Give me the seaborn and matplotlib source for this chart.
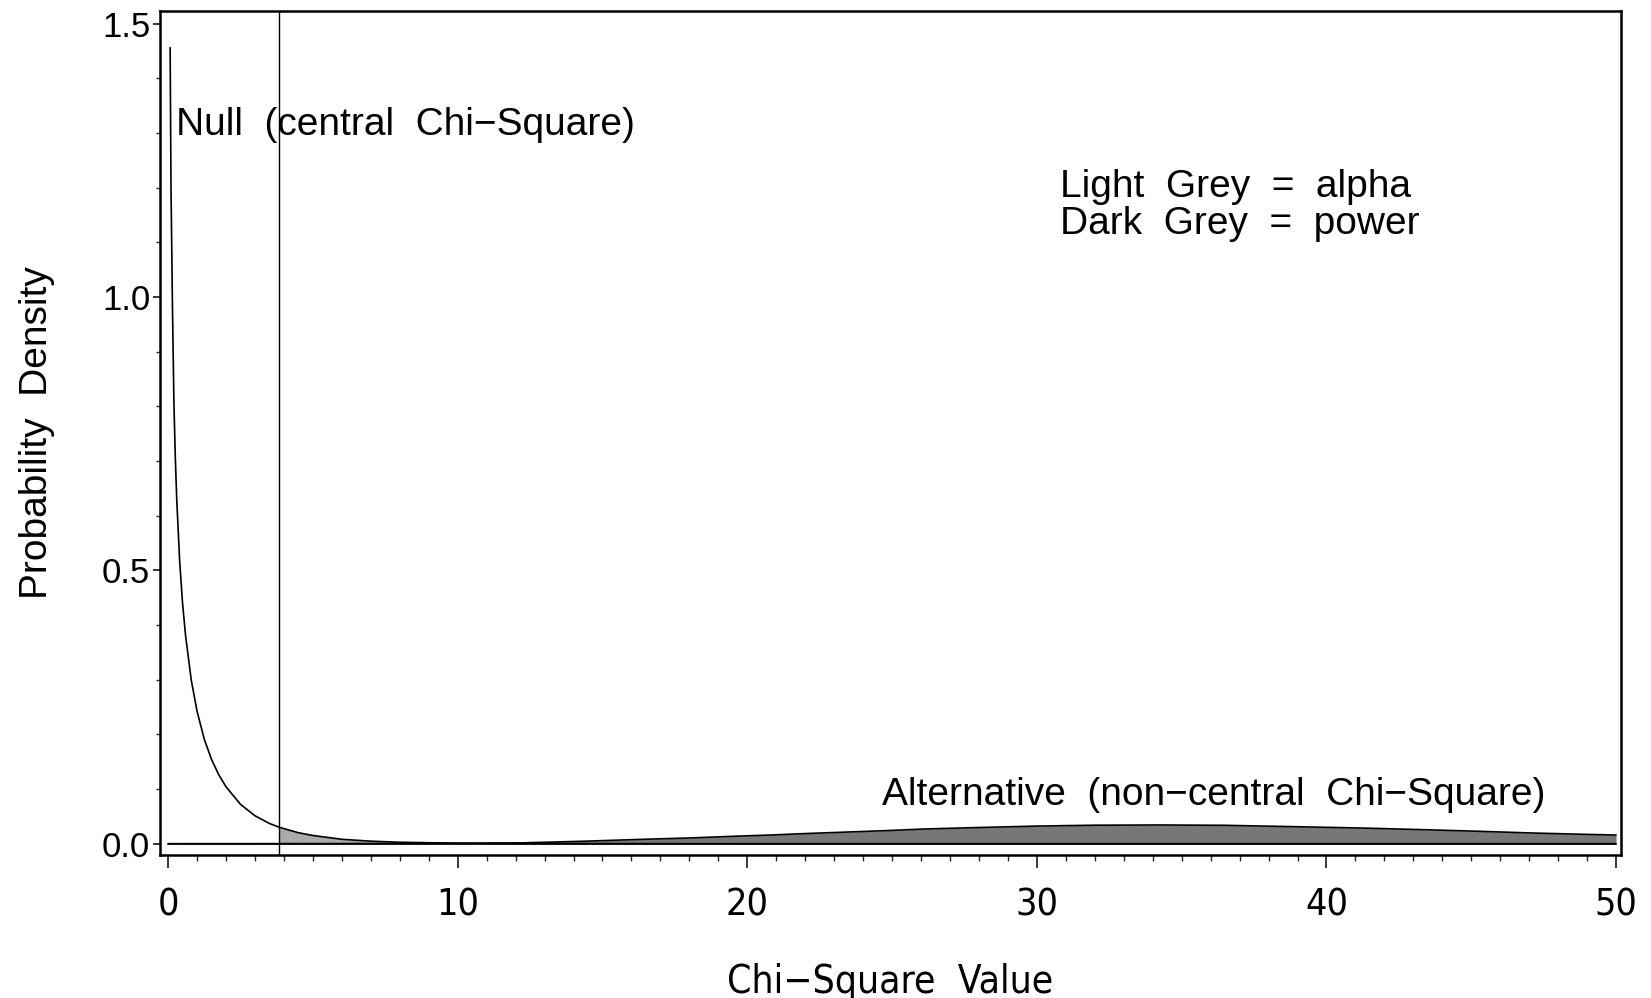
import numpy as np
import pandas as pd
import matplotlib
matplotlib.use("Agg")
import matplotlib.pyplot as plt
from matplotlib import font_manager
from matplotlib.font_manager import FontProperties
from matplotlib.ticker import MultipleLocator, FixedLocator
import seaborn as sns

# ---- data ----
crit_value = 3.84

null_x = [0.07, 0.1, 0.15, 0.2, 0.25, 0.3, 0.4, 0.5, 0.6, 0.8, 1.0, 1.25, 1.5, 1.75,
          2.0, 2.5, 3.0, 3.5, 3.84, 4.5, 5.0, 6.0, 7.0, 8.0, 10.0, 12.0, 15.0, 20.0,
          30.0, 40.0, 50.0]
null_y = [1.456, 1.200, 0.984, 0.807, 0.704, 0.627, 0.516, 0.439, 0.382, 0.299, 0.242,
          0.191, 0.154, 0.126, 0.104, 0.072, 0.051, 0.037, 0.030, 0.020, 0.015, 0.008,
          0.0046, 0.0026, 0.0009, 0.0003, 0.0001, 0.0, 0.0, 0.0, 0.0]

alt_x = [0.0, 3.84, 6.0, 8.0, 10.0, 12.2, 14.3, 16.4, 18.05, 19.5, 20.9, 21.9, 23.2,
         24.75, 26.15, 27.8, 30.0, 32.0, 34.3, 36.5, 38.8, 41.3, 43.35, 45.25, 47.05,
         48.85, 50.0]
alt_y = [0.0, 0.0001, 0.0002, 0.0004, 0.0008, 0.0015, 0.0044, 0.0080, 0.0105, 0.0135,
         0.0160, 0.0183, 0.0208, 0.0238, 0.0269, 0.0293, 0.0322, 0.0338, 0.0342, 0.0336,
         0.0312, 0.0285, 0.0256, 0.0227, 0.0196, 0.0172, 0.0158]

x_ticks = [0, 10, 20, 30, 40, 50]
x_ticklabels = ["0", "10", "20", "30", "40", "50"]
y_ticks = [0.0, 0.5, 1.0, 1.5]
y_ticklabels = ["0.0", "0.5", "1.0", "1.5"]

null_label = "Null  (central  Chi\u2212Square)"
alt_label = "Alternative  (non\u2212central  Chi\u2212Square)"
legend_line1 = "Light  Grey  =  alpha"
legend_line2 = "Dark  Grey  =  power"
x_title = "Chi\u2212Square  Value"
y_title = "Probability  Density"

# ---- style ----
sns.set_theme(style="ticks")
names = {f.name for f in font_manager.fontManager.ttflist}
regular = "Liberation Sans" if "Liberation Sans" in names else "DejaVu Sans"
plt.rcParams["font.family"] = [regular, "DejaVu Sans"]

# pick a narrow / condensed face for the x axis texts if one is installed
narrow_file = None
narrow_kind = None
for f in font_manager.fontManager.ttflist:
    if "Narrow" in f.name and "Liberation" in f.name and f.weight in (400, "normal", "regular") \
            and f.style == "normal":
        narrow_file = f.fname
        narrow_kind = "narrow"
        break
if narrow_file is None:
    for f in font_manager.fontManager.ttflist:
        if (("Condensed" in f.name) or (str(f.stretch) in ("condensed", "semi-condensed"))) \
                and f.style == "normal" and f.weight in (400, "normal", "regular") \
                and "Mono" not in f.name and "Serif" not in f.name:
            narrow_file = f.fname
            narrow_kind = "condensed"
            break

def xfont(size):
    if narrow_file is not None:
        return FontProperties(fname=narrow_file, size=size)
    return FontProperties(family=regular, size=size)

if narrow_kind == "narrow":
    xtick_size, xlab_size = 30, 31
elif narrow_kind == "condensed":
    xtick_size, xlab_size = 27, 28
else:
    xtick_size, xlab_size = 25, 28

fig = plt.figure(figsize=(16.51, 9.98), dpi=100)
fig.patch.set_facecolor("white")
ax = fig.add_axes([160 / 1651, (998 - 855) / 998, (1621 - 160) / 1651, (855 - 11) / 998])
ax.set_facecolor("white")

null_df = pd.DataFrame({"x": null_x, "y": null_y})
alt_df = pd.DataFrame({"x": alt_x, "y": alt_y})

nx = np.array(null_x)
ny = np.array(null_y)
axx = np.array(alt_x)
ayy = np.array(alt_y)

# light grey: null density beyond the critical value (alpha)
mask_n = nx >= crit_value
ax.fill_between(nx[mask_n], 0, ny[mask_n], color="#ababab", linewidth=0, zorder=1)
# dark grey: alternative density beyond the critical value (power)
mask_a = axx >= crit_value
ax.fill_between(axx[mask_a], 0, ayy[mask_a], color="#777777", linewidth=0, zorder=2)

sns.lineplot(data=null_df, x="x", y="y", ax=ax, color="black", linewidth=1.2,
             sort=False, estimator=None, zorder=4)
sns.lineplot(data=alt_df, x="x", y="y", ax=ax, color="black", linewidth=1.2,
             sort=False, estimator=None, zorder=4)

# baseline and critical value
ax.plot([0, 50], [0, 0], color="black", linewidth=1.2, zorder=3)
ax.axvline(crit_value, color="black", linewidth=1.0, zorder=3)

ax.set_xlim(-0.28, 50.17)
ax.set_ylim(-0.0207, 1.523)

ax.xaxis.set_major_locator(FixedLocator(x_ticks))
ax.set_xticklabels(x_ticklabels)
for lab in ax.get_xticklabels():
    lab.set_fontproperties(xfont(xtick_size))
ax.xaxis.set_minor_locator(MultipleLocator(1))
ax.yaxis.set_major_locator(FixedLocator(y_ticks))
ax.set_yticklabels(y_ticklabels, fontsize=25)
ax.yaxis.set_minor_locator(MultipleLocator(0.1))

ax.tick_params(axis="x", which="major", direction="out", length=9.4, width=1.1,
               pad=14, colors="black")
ax.tick_params(axis="x", which="minor", direction="out", length=4.3, width=1.0)
ax.tick_params(axis="y", which="major", direction="out", length=5, width=1.1,
               pad=2, colors="black")
ax.tick_params(axis="y", which="minor", direction="out", length=2.9, width=1.0)

for s in ax.spines.values():
    s.set_visible(True)
    s.set_linewidth(1.8)
    s.set_color("black")

ax.set_xlabel(x_title, fontproperties=xfont(xlab_size), color="black")
ax.set_ylabel(y_title, fontsize=28, color="black")
ax.xaxis.set_label_coords(0.5, -0.128)
ax.yaxis.set_label_coords(-0.072, 0.5)

ax.text(0.28, 1.296, null_label, fontsize=28, va="baseline", ha="left", color="black")
ax.text(30.8, 1.183, legend_line1, fontsize=28, va="baseline", ha="left", color="black")
ax.text(30.8, 1.115, legend_line2, fontsize=28, va="baseline", ha="left", color="black")
ax.text(24.65, 0.071, alt_label, fontsize=28, va="baseline", ha="left", color="black")

fig.savefig("out.png", dpi=100, facecolor="white")
